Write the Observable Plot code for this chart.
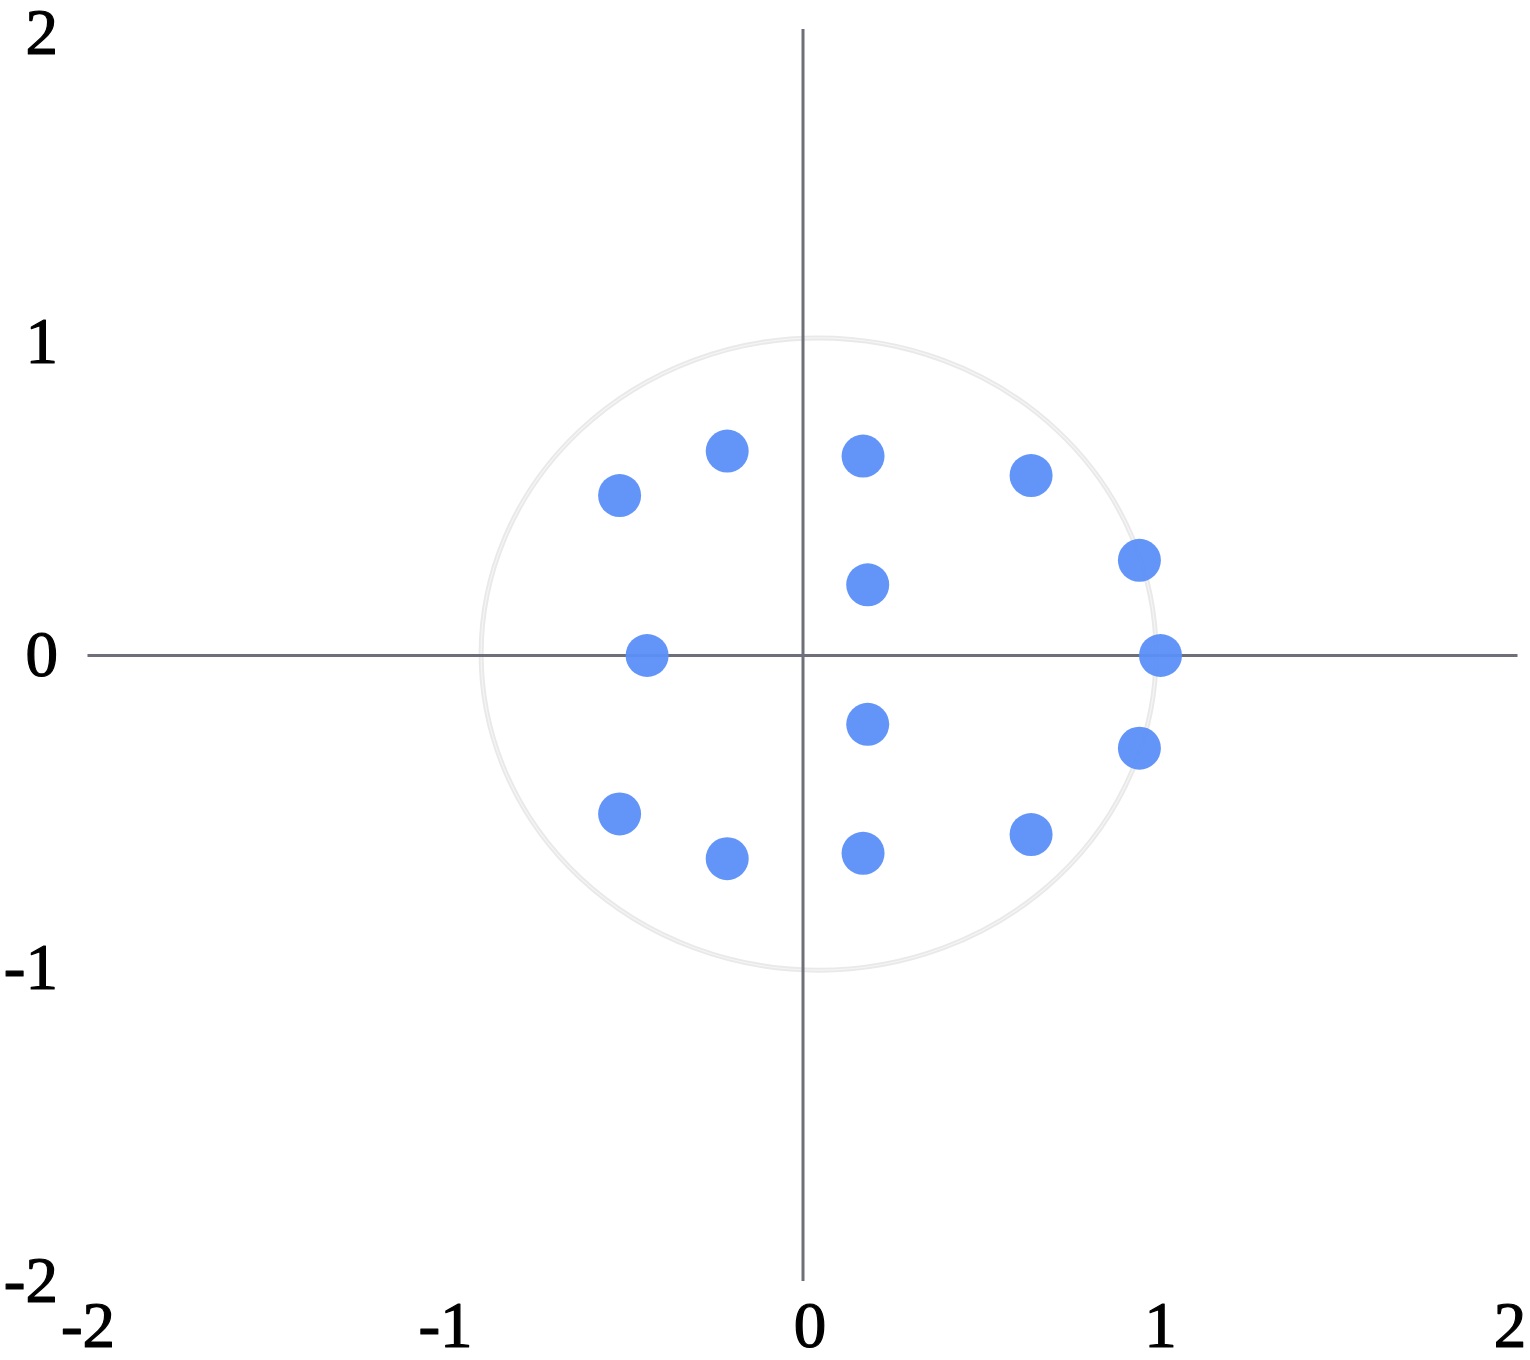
<!DOCTYPE html>
<html>
<head>
<meta charset="utf-8">
<script src="https://cdn.jsdelivr.net/npm/d3@7"></script>
<script src="https://cdn.jsdelivr.net/npm/@observablehq/plot@0.6"></script>
<style>
  html, body { margin: 0; padding: 0; background: #fff; }
  svg text { font-family: 'Liberation Serif', 'Times New Roman', serif !important; }
</style>
</head>
<body>
<div id="chart"></div>
<script>
// Tick values
const xTicks = [-2, -1, 0, 1, 2];
const yTicks = [-2, -1, 0, 1, 2];

// Point coordinates
const pointX = [-0.212, -0.513, -0.436, 0.168, 0.638, 0.941, 0.181, 1.0, -0.513, -0.212, 0.181, 0.941, 0.638, 0.168];
const pointY = [0.653, 0.511, 0.0, 0.637, 0.575, 0.304, 0.226, 0.0, -0.506, -0.649, -0.220, -0.296, -0.572, -0.632];

// Reference circle (slightly elliptic in the picture): centre and radii in data units
const circleCenter = [0.045, 0.003];
const circleRadii = [0.944, 1.01];

const points = pointX.map((x, i) => ({x, y: pointY[i]}));

const serif = "'Liberation Serif', 'Times New Roman', serif";
const textStyle = {fontSize: 65, fontFamily: serif, fill: "#000", textStroke: "#000", textStrokeWidth: 1.2, textStrokeOpacity: 1, tickFormat: d => String(d), label: null, tickSize: 0};
const xAxisCommon = {...textStyle, anchor: "bottom", tickPadding: 19};
const yAxisCommon = {...textStyle, anchor: "left", tickPadding: 30};

const chart = Plot.plot({
  width: 1530,
  height: 1360,
  marginLeft: 87.5,
  marginRight: 12.5,
  marginTop: 29,
  marginBottom: 79,
  style: {fontFamily: serif, color: "#000", background: "#fff"},
  x: {domain: [-2, 2], axis: null},
  y: {domain: [-2, 2], axis: null},
  marks: [
    Plot.ruleX([0], {stroke: "#6f6f7a", strokeWidth: 3}),
    Plot.ruleY([0], {stroke: "#6f6f7a", strokeWidth: 3}),
    Plot.dot(points, {x: "x", y: "y", r: 21.5, fill: "#5b8ff9", fillOpacity: 0.95, stroke: "none"}),
    Plot.axisX(xTicks.filter(d => d !== 0 && d !== 2), {...xAxisCommon}),
    Plot.axisX(xTicks.filter(d => d === 0), {...xAxisCommon, dx: 7}),
    Plot.axisX(xTicks.filter(d => d === 2), {...xAxisCommon, dx: -8}),
    Plot.axisY(yTicks.filter(d => d !== 2), {...yAxisCommon}),
    Plot.axisY(yTicks.filter(d => d === 2), {...yAxisCommon, dy: 4})
  ]
});

// Draw the reference circle behind the marks using the plot's own scales
const sx = chart.scale("x"), sy = chart.scale("y");
const cx = sx.apply(circleCenter[0]);
const cy = sy.apply(circleCenter[1]);
const rx = sx.apply(circleCenter[0] + circleRadii[0]) - cx;
const ry = cy - sy.apply(circleCenter[1] + circleRadii[1]);
const ns = "http://www.w3.org/2000/svg";
const g = document.createElementNS(ns, "g");
const e1 = document.createElementNS(ns, "ellipse");
e1.setAttribute("cx", cx); e1.setAttribute("cy", cy);
e1.setAttribute("rx", rx); e1.setAttribute("ry", ry);
e1.setAttribute("fill", "none"); e1.setAttribute("stroke", "#e9e9e9"); e1.setAttribute("stroke-width", 5);
const e2 = document.createElementNS(ns, "ellipse");
e2.setAttribute("cx", cx); e2.setAttribute("cy", cy);
e2.setAttribute("rx", rx); e2.setAttribute("ry", ry);
e2.setAttribute("fill", "none"); e2.setAttribute("stroke", "#f5f5f5"); e2.setAttribute("stroke-width", 1.2);
g.appendChild(e1); g.appendChild(e2);
const firstG = chart.querySelector("g");
chart.insertBefore(g, firstG);

document.getElementById("chart").appendChild(chart);
</script>
</body>
</html>
